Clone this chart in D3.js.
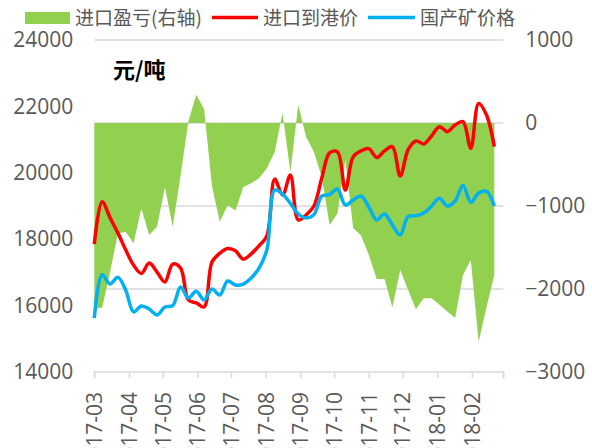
<!DOCTYPE html>
<html>
<head>
<meta charset="utf-8">
<script src="https://cdnjs.cloudflare.com/ajax/libs/d3/7.8.5/d3.min.js"></script>
<style>
  body { margin: 0; background: #fff; }
  svg text { font-family: "Open Sans", "Noto Sans CJK SC", sans-serif; fill: #595959; }
  .cjk { font-family: "Noto Sans CJK SC", sans-serif; }
</style>
</head>
<body>
<div id="chart"></div>
<script>
// weekly dates
var dates = ["2017-03-01","2017-03-08","2017-03-15","2017-03-22","2017-03-29","2017-04-05","2017-04-12","2017-04-19","2017-04-26",
  "2017-05-03","2017-05-10","2017-05-17","2017-05-24","2017-05-31","2017-06-07","2017-06-14","2017-06-21","2017-06-28",
  "2017-07-05","2017-07-12","2017-07-19","2017-07-26","2017-08-02","2017-08-09","2017-08-16","2017-08-23","2017-08-30",
  "2017-09-06","2017-09-13","2017-09-20","2017-09-27","2017-10-04","2017-10-11","2017-10-18","2017-10-25","2017-11-01",
  "2017-11-08","2017-11-15","2017-11-22","2017-11-29","2017-12-06","2017-12-13","2017-12-20","2017-12-27","2018-01-03",
  "2018-01-10","2018-01-17","2018-01-24","2018-01-31","2018-02-07","2018-02-14","2018-02-21"];

// 进口盈亏 (right axis)
var profit = [-2230,-2225,-1800,-1330,-1310,-1450,-1030,-1350,-1250,-770,-1250,-630,20,340,170,-760,-1190,-990,
  -1055,-770,-725,-665,-545,-350,120,-590,220,-165,-350,-650,-1230,-1090,-445,-1265,-1355,-1590,
  -1880,-1880,-2220,-1770,-2010,-2245,-2110,-2110,-2190,-2270,-2350,-1830,-1650,-2640,-2220,-1830];

// 进口到港价
var importPrice = [17850,19130,18650,18190,17680,17220,16970,17280,17010,16710,17250,17130,16170,16080,15960,17310,17580,17720,
  17650,17400,17560,17800,18100,19810,19330,19930,18580,18730,19000,19840,20600,20630,19480,20480,20660,20730,
  20460,20660,20790,19900,20690,20960,20870,21110,21390,21240,21440,21540,20740,22090,21740,20790];

// 国产矿价格
var domesticPrice = [15620,16930,16650,16850,16470,15810,15990,15900,15720,15960,16000,16560,16230,16430,16170,16500,16320,16740,
  16620,16650,16830,17130,17680,19480,19360,19080,18760,18640,18740,19300,19350,19510,19030,19180,19300,18970,
  18580,18760,18430,18130,18680,18710,18790,19000,19230,19000,19150,19620,19110,19390,19440,19000];

var leftTicks = [14000, 16000, 18000, 20000, 22000, 24000];
var rightTicks = [-3000, -2000, -1000, 0, 1000];
var monthLabels = ["2017-03","2017-04","2017-05","2017-06","2017-07","2017-08","2017-09","2017-10","2017-11","2017-12","2018-01","2018-02"];
var legendItems = ["进口盈亏(右轴)", "进口到港价", "国产矿价格"];

var parseDate = d3.timeParse("%Y-%m-%d");
var data = dates.map(function(d, i) {
  return { date: parseDate(d), profit: profit[i], imp: importPrice[i], dom: domesticPrice[i] };
});

var svg = d3.select("#chart").append("svg")
  .attr("width", 592)
  .attr("height", 448);

// scales
var x = d3.scaleTime()
  .domain([parseDate("2017-03-01"), parseDate("2018-03-01")])
  .range([94.3, 503.3]);
var yL = d3.scaleLinear().domain([14000, 24000]).range([372, 40]);
var yR = d3.scaleLinear().domain([-3000, 1000]).range([372, 40]);

// gridlines
svg.append("g").selectAll("line")
  .data(rightTicks.slice(1))
  .enter().append("line")
  .attr("x1", 94.3).attr("x2", 503.3)
  .attr("y1", function(d) { return yR(d); })
  .attr("y2", function(d) { return yR(d); })
  .attr("stroke", "#d9d9d9")
  .attr("stroke-width", 1.5);

// area
var area = d3.area()
  .x(function(d) { return x(d.date); })
  .y0(yR(0))
  .y1(function(d) { return yR(d.profit); });

svg.append("path")
  .datum(data)
  .attr("fill", "#92d050")
  .attr("d", area);

// x axis - ticks every month, label only the months in monthLabels
var fmtMonth = d3.timeFormat("%Y-%m");
var xAxis = d3.axisBottom(x)
  .ticks(d3.timeMonth.every(1))
  .tickSize(6)
  .tickFormat(function(d) { var s = fmtMonth(d); return monthLabels.indexOf(s) >= 0 ? s : ""; });

var gx = svg.append("g")
  .attr("transform", "translate(0,372)")
  .call(xAxis);
gx.select(".domain").attr("stroke", "#d9d9d9").attr("stroke-width", 1.5)
  .attr("d", "M94.3,6V0H503.3V6");
gx.selectAll(".tick line").attr("stroke", "#d9d9d9").attr("stroke-width", 1.5);
gx.selectAll(".tick text")
  .attr("transform", "rotate(-90)")
  .attr("text-anchor", "end")
  .attr("x", -20)
  .attr("y", 0)
  .attr("dy", "0.35em")
  .style("font-size", "21px")
  .style("font-family", "Open Sans")
  .attr("fill", "#595959");

// left axis labels
var yAxisL = d3.axisLeft(yL).tickValues(leftTicks).tickSize(0).tickPadding(21).tickFormat(d3.format("d"));
var gl = svg.append("g").attr("transform", "translate(94.3,0)").call(yAxisL);
gl.select(".domain").remove();
gl.selectAll("text").style("font-size", "21px").style("font-family", "Open Sans").attr("fill", "#595959");

// right axis labels
var yAxisR = d3.axisRight(yR).tickValues(rightTicks).tickSize(0).tickPadding(22).tickFormat(d3.format("d"));
var gr = svg.append("g").attr("transform", "translate(503.3,0)").call(yAxisR);
gr.select(".domain").remove();
gr.selectAll("text").style("font-size", "21px").style("font-family", "Open Sans").attr("fill", "#595959");

// lines
var lineImp = d3.line()
  .x(function(d) { return x(d.date); })
  .y(function(d) { return yL(d.imp); })
  .curve(d3.curveCatmullRom);
var lineDom = d3.line()
  .x(function(d) { return x(d.date); })
  .y(function(d) { return yL(d.dom); })
  .curve(d3.curveCatmullRom);

svg.append("path").datum(data)
  .attr("fill", "none").attr("stroke", "#ff0000").attr("stroke-width", 3.5)
  .attr("d", lineImp);
svg.append("path").datum(data)
  .attr("fill", "none").attr("stroke", "#00b0f0").attr("stroke-width", 3.5)
  .attr("d", lineDom);

// unit label
svg.append("text")
  .attr("class", "cjk")
  .attr("x", 113).attr("y", 78)
  .style("font-size", "22px")
  .style("font-weight", "bold")
  .style("fill", "#000")
  .text("元/吨");

// legend
var legend = svg.append("g").attr("class", "legend");
legend.append("rect")
  .attr("x", 25).attr("y", 12).attr("width", 45).attr("height", 12)
  .attr("fill", "#92d050");
legend.append("text").attr("class", "cjk")
  .attr("x", 75).attr("y", 25).style("font-size", "19px").text(legendItems[0]);
legend.append("line")
  .attr("x1", 212).attr("x2", 258).attr("y1", 17.5).attr("y2", 17.5)
  .attr("stroke", "#ff0000").attr("stroke-width", 3.5);
legend.append("text").attr("class", "cjk")
  .attr("x", 263).attr("y", 25).style("font-size", "19px").text(legendItems[1]);
legend.append("line")
  .attr("x1", 368).attr("x2", 415).attr("y1", 17.5).attr("y2", 17.5)
  .attr("stroke", "#00b0f0").attr("stroke-width", 3.5);
legend.append("text").attr("class", "cjk")
  .attr("x", 420).attr("y", 25).style("font-size", "19px").text(legendItems[2]);
</script>
</body>
</html>
